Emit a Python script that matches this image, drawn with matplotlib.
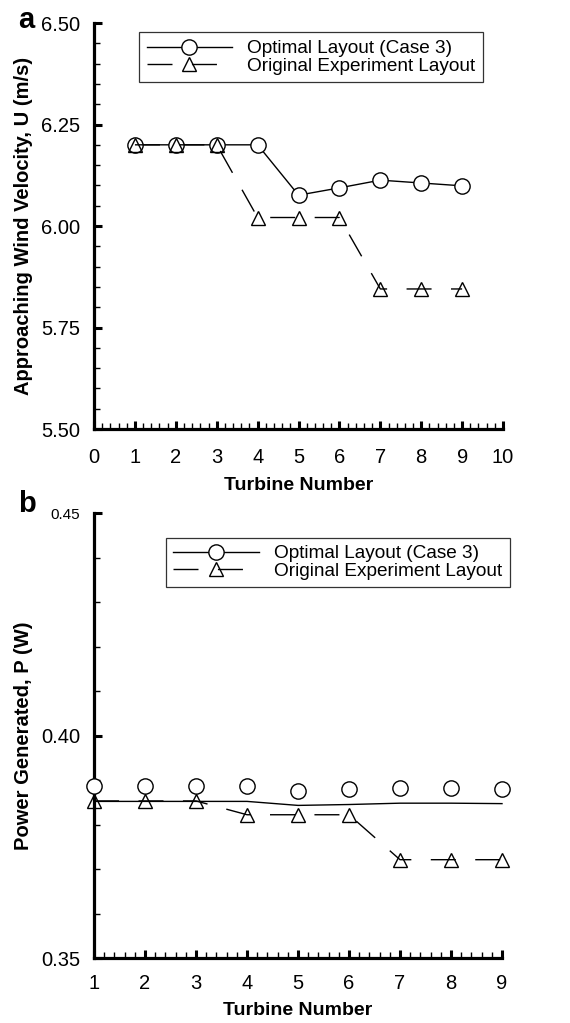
import matplotlib
matplotlib.use("Agg")
import matplotlib.pyplot as plt
from matplotlib.lines import Line2D
from matplotlib.ticker import MultipleLocator, FormatStrFormatter

plt.rcParams['font.family'] = ['Liberation Sans', 'DejaVu Sans']

# ---- data ----
turbines = [1, 2, 3, 4, 5, 6, 7, 8, 9]
u_optimal = [6.20, 6.20, 6.20, 6.20, 6.076, 6.094, 6.113, 6.106, 6.099]
u_original = [6.20, 6.20, 6.20, 6.021, 6.021, 6.021, 5.845, 5.845, 5.845]
p_optimal_markers = [0.3886, 0.3886, 0.3886, 0.3886, 0.3876, 0.3879, 0.3882, 0.3881, 0.3880]
p_optimal_line = [0.3852, 0.3852, 0.3852, 0.3852, 0.3843, 0.3845, 0.3848, 0.3848, 0.3847]
p_original = [0.3853, 0.3853, 0.3853, 0.3822, 0.3822, 0.3822, 0.3721, 0.3721, 0.3721]

label_opt = "Optimal Layout (Case 3)"
label_orig = "Original Experiment Layout"

dash = (0, (18, 14))
circ_kw = dict(marker='o', markersize=11, markerfacecolor='white', markeredgecolor='black',
               markeredgewidth=1.0)
tri_kw = dict(marker='^', markersize=10, markerfacecolor='none', markeredgecolor='black',
              markeredgewidth=1.0)

TICK_FS = 14.5
LAB_FS = 14.5
XLAB_FS = 14
LEG_FS = 13.7

fig = plt.figure(figsize=(5.70, 10.23), dpi=100)
ax1 = fig.add_axes([0.165, 0.5806, 0.7175, 0.3969])
ax2 = fig.add_axes([0.165, 0.0635, 0.7157, 0.435])


def style(ax, xpad):
    for s in ['top', 'right']:
        ax.spines[s].set_visible(False)
    for s in ['left', 'bottom']:
        ax.spines[s].set_linewidth(2.3)
    ax.tick_params(axis='both', which='major', direction='in', length=6, width=2.2,
                   labelsize=TICK_FS)
    ax.tick_params(axis='both', which='minor', direction='in', length=4, width=1.0)
    ax.tick_params(axis='y', which='major', pad=10)
    ax.tick_params(axis='x', which='major', pad=xpad)


def add_legend(ax, anchor):
    h = [Line2D([], [], color='black', lw=1.0, **circ_kw),
         Line2D([], [], color='black', lw=1.0, ls=dash, **tri_kw)]
    leg = ax.legend(h, [label_opt, label_orig], loc='upper left', bbox_to_anchor=anchor,
                    fontsize=LEG_FS, frameon=True, fancybox=False, edgecolor='black',
                    handlelength=4.5, handletextpad=0.8, borderpad=0.4, labelspacing=0.0,
                    borderaxespad=0)
    leg.get_frame().set_linewidth(0.9)
    return leg


# ---- panel a ----
ax1.plot(turbines, u_optimal, color='black', lw=1.0, zorder=3, clip_on=False, **circ_kw)
ax1.plot(turbines, u_original, color='black', lw=1.0, ls=dash, zorder=4, clip_on=False, **tri_kw)
ax1.set_xlim(0, 10)
ax1.set_ylim(5.50, 6.50)
ax1.xaxis.set_major_locator(MultipleLocator(1))
ax1.xaxis.set_minor_locator(MultipleLocator(0.2))
ax1.yaxis.set_major_locator(MultipleLocator(0.25))
ax1.yaxis.set_minor_locator(MultipleLocator(0.05))
ax1.yaxis.set_major_formatter(FormatStrFormatter('%.2f'))
style(ax1, 14)
ax1.set_xlabel("Turbine Number", fontsize=XLAB_FS, fontweight='bold', labelpad=7)
ax1.set_ylabel("Approaching Wind Velocity, U (m/s)", fontsize=LAB_FS, fontweight='bold',
               labelpad=5.5)
add_legend(ax1, (0.11, 0.977))
fig.text(0.031, 0.980, "a", fontsize=21, fontweight='bold', ha='left', va='center')

# ---- panel b ----
ax2.plot(turbines, p_optimal_line, color='black', lw=1.0, zorder=3, clip_on=False)
ax2.plot(turbines, p_optimal_markers, ls='none', zorder=3, clip_on=False, **circ_kw)
ax2.plot(turbines, p_original, color='black', lw=1.0, ls=dash, zorder=4, clip_on=False, **tri_kw)
ax2.set_xlim(1, 9)
ax2.set_ylim(0.35, 0.45)
ax2.xaxis.set_major_locator(MultipleLocator(1))
ax2.xaxis.set_minor_locator(MultipleLocator(0.2))
ax2.yaxis.set_major_locator(MultipleLocator(0.05))
ax2.yaxis.set_minor_locator(MultipleLocator(0.01))
ax2.yaxis.set_major_formatter(FormatStrFormatter('%.2f'))
style(ax2, 11.5)
ax2.set_xlabel("Turbine Number", fontsize=XLAB_FS, fontweight='bold', labelpad=6.5)
ax2.set_ylabel("Power Generated, P (W)", fontsize=LAB_FS, fontweight='bold', labelpad=5.5)
fig.canvas.draw()
for lab in ax2.get_yticklabels():
    if lab.get_text() == '0.45':
        lab.set_fontsize(11)
add_legend(ax2, (0.176, 0.945))
fig.text(0.031, 0.507, "b", fontsize=21, fontweight='bold', ha='left', va='center')

fig.savefig("out.png", dpi=100)
